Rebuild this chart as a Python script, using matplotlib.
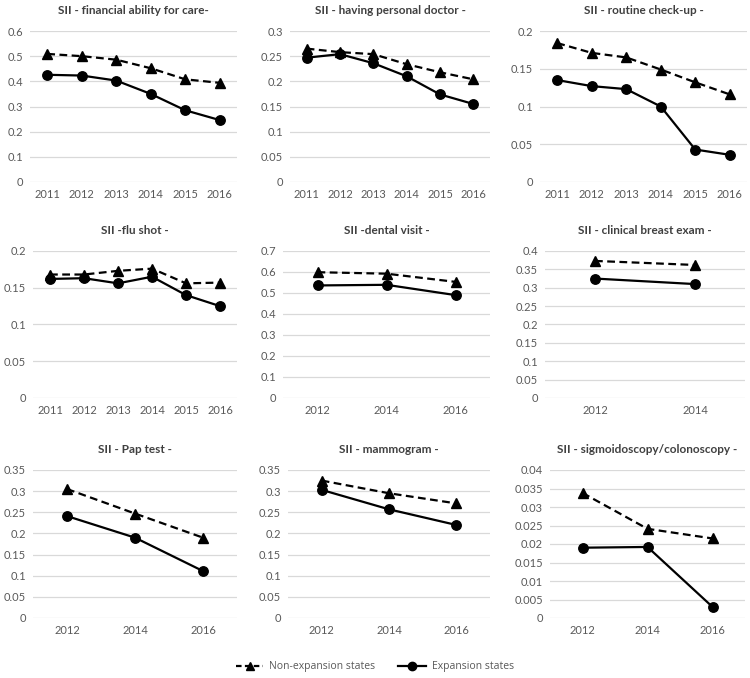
import matplotlib
matplotlib.use("Agg")
import matplotlib.pyplot as plt
from matplotlib.lines import Line2D

plt.rcParams['font.family'] = ['Lato', 'DejaVu Sans']

years6 = ["2011", "2012", "2013", "2014", "2015", "2016"]
years3 = ["2012", "2014", "2016"]
years2 = ["2012", "2014"]

titles = [
    "SII - financial ability for care-",
    "SII - having personal doctor -",
    "SII - routine check-up -",
    "SII -flu shot -",
    "SII -dental visit -",
    "SII - clinical breast exam -",
    "SII - Pap test -",
    "SII - mammogram -",
    "SII - sigmoidoscopy/colonoscopy -",
]

# Non-expansion states
nonexp_financial = [0.509, 0.500, 0.486, 0.452, 0.408, 0.394]
nonexp_doctor = [0.265, 0.258, 0.254, 0.234, 0.218, 0.204]
nonexp_checkup = [0.184, 0.171, 0.165, 0.149, 0.132, 0.116]
nonexp_flu = [0.168, 0.168, 0.173, 0.176, 0.156, 0.157]
nonexp_dental = [0.599, 0.592, 0.553]
nonexp_breast = [0.373, 0.362]
nonexp_pap = [0.305, 0.247, 0.190]
nonexp_mammo = [0.325, 0.295, 0.271]
nonexp_sigmo = [0.0338, 0.0241, 0.0215]

# Expansion states
exp_financial = [0.426, 0.423, 0.403, 0.350, 0.285, 0.246]
exp_doctor = [0.247, 0.254, 0.236, 0.210, 0.174, 0.155]
exp_checkup = [0.135, 0.127, 0.123, 0.100, 0.043, 0.036]
exp_flu = [0.162, 0.163, 0.156, 0.165, 0.140, 0.125]
exp_dental = [0.536, 0.539, 0.490]
exp_breast = [0.325, 0.310]
exp_pap = [0.241, 0.190, 0.111]
exp_mammo = [0.303, 0.257, 0.220]
exp_sigmo = [0.0190, 0.0192, 0.0030]

ymax = [0.6, 0.3, 0.2, 0.2, 0.7, 0.4, 0.35, 0.35, 0.04]
ystep = [0.1, 0.05, 0.05, 0.05, 0.1, 0.05, 0.05, 0.05, 0.005]

cats = [years6, years6, years6, years6, years3, years2, years3, years3, years3]
nonexp = [nonexp_financial, nonexp_doctor, nonexp_checkup, nonexp_flu, nonexp_dental,
          nonexp_breast, nonexp_pap, nonexp_mammo, nonexp_sigmo]
expn = [exp_financial, exp_doctor, exp_checkup, exp_flu, exp_dental,
        exp_breast, exp_pap, exp_mammo, exp_sigmo]

W, H = 750, 678
fig = plt.figure(figsize=(W / 100, H / 100), dpi=100)

# plot areas in pixels: (x0, x1, ytop, ybottom)
boxes = [
    (30, 237, 31, 182), (290, 490, 31, 182), (540, 747, 31, 182),
    (33, 237, 251, 398), (283, 490, 251, 398), (545, 745, 251, 398),
    (33, 237, 470, 618), (288, 490, 470, 618), (550, 745, 470, 618),
]

gray = "#595959"
for i in range(9):
    x0, x1, yt, yb = boxes[i]
    ax = fig.add_axes([x0 / W, 1 - yb / H, (x1 - x0) / W, (yb - yt) / H])
    c = cats[i]
    xs = list(range(len(c)))
    ax.plot(xs, nonexp[i], color="black", ls=(0, (3.5, 2)), lw=1.6, marker="^",
            ms=6.5, zorder=3)
    ax.plot(xs, expn[i], color="black", ls="-", lw=1.6, marker="o", ms=6.8, zorder=4)
    ax.set_xlim(-0.5, len(c) - 0.5)
    ax.set_ylim(0, ymax[i])
    n = int(round(ymax[i] / ystep[i]))
    ticks = [round(k * ystep[i], 4) for k in range(n + 1)]
    ax.set_yticks(ticks)
    ax.set_yticklabels([f"{t:g}" for t in ticks])
    ax.set_xticks(xs)
    ax.set_xticklabels(c)
    ax.tick_params(length=0, labelsize=8, colors=gray, pad=5)
    ax.grid(axis="y", color="#d9d9d9", lw=0.9)
    ax.set_axisbelow(True)
    for s in ax.spines.values():
        s.set_visible(False)
    ax.set_title(titles[i], fontsize=8.5, fontweight="bold", color="#404040", pad=12)

handles = [
    Line2D([], [], color="black", ls=(0, (2.5, 1.5)), lw=1.6, marker="^", ms=6),
    Line2D([], [], color="black", ls="-", lw=1.6, marker="o", ms=6),
]
fig.legend(handles, ["Non-expansion states", "Expansion states"],
           loc="center", bbox_to_anchor=(375 / W, 1 - 667 / H), ncol=2,
           frameon=False, handlelength=2.6, columnspacing=2.2, handletextpad=0.6,
           labelcolor=gray, prop={'family': 'Open Sans', 'size': 7.5})

fig.savefig("out.png", dpi=100)
